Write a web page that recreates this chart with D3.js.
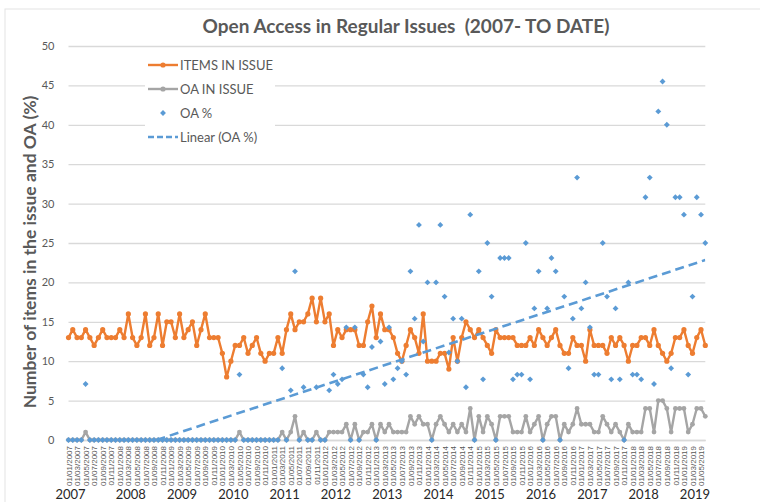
<!DOCTYPE html>
<html>
<head>
<meta charset="utf-8">
<script src="https://cdn.jsdelivr.net/npm/d3@7"></script>
<style>
  body { margin: 0; background: #fff; }
  svg { display: block; font-family: Lato, "Open Sans", sans-serif; }
</style>
</head>
<body>
<div id="chart"></div>
<script>
// monthly issues, Jan 2007 .. Jun 2019
var months = d3.timeMonth.range(new Date(2007, 0, 1), new Date(2019, 6, 1));
var yearLabels = ["2007","2008","2009","2010","2011","2012","2013","2014","2015","2016","2017","2018","2019"];

var itemsInIssue = [
  13,14,13,13,14,13,12,13,14,13, 13,13,14,13,16,13,12,13,16,12,
  13,16,12,15,15,13,16,13,14,15, 12,14,16,13,13,13,11,8,10,12,
  12,13,11,12,13,11,10,11,11,13, 11,14,16,14,15,15,16,18,15,18,
  15,16,12,14,13,14,14,14,12,12, 15,17,13,16,14,14,13,11,10,12,
  14,13,11,16,10,10,10,11,11,9, 13,10,13,15,14,13,14,13,12,11,
  14,13,13,13,13,12,12,12,13,12, 14,13,12,13,14,12,11,11,13,12,
  12,10,14,12,12,12,11,13,12,13, 12,10,12,12,13,13,12,14,12,11,
  10,11,13,13,14,12,11,13,14,12
];
var oaInIssue = [
  0,0,0,0,1,0,0,0,0,0, 0,0,0,0,0,0,0,0,0,0,
  0,0,0,0,0,0,0,0,0,0, 0,0,0,0,0,0,0,0,0,0,
  1,0,0,0,0,0,0,0,0,0, 1,0,1,3,0,1,0,0,1,0,
  0,1,1,1,1,2,0,2,0,1, 1,2,0,2,1,2,1,1,1,1,
  3,2,3,2,2,0,2,3,2,1, 2,1,2,1,4,0,3,1,3,2,
  0,3,3,3,1,1,1,3,1,2, 3,0,2,3,3,0,2,1,2,4,
  2,2,2,1,1,3,2,1,2,1, 0,2,1,1,1,4,4,1,5,5,
  4,1,4,4,4,1,2,4,4,3
];
var oaPercent = [
  0,0,0,0,7.1,0,0,0,0,0, 0,0,0,0,0,0,0,0,0,0,
  0,0,0,0,0,0,0,0,0,0, 0,0,0,0,0,0,0,0,0,0,
  8.3,0,0,0,0,0,0,0,0,0, 9.1,0,6.3,21.4,0,6.7,0,0,6.7,0,
  0,6.3,8.3,7.1,7.7,14.3,0,14.3,0,8.3, 6.7,11.8,0,12.5,7.1,14.3,7.7,9.1,10,8.3,
  21.4,15.4,27.3,12.5,20,0,20,27.3,18.2,11.1, 15.4,10,15.4,6.7,28.6,0,21.4,7.7,25,18.2,
  0,23.1,23.1,23.1,7.7,8.3,8.3,25,7.7,16.7, 21.4,0,16.7,23.1,21.4,0,18.2,9.1,15.4,33.3,
  16.7,20,14.3,8.3,8.3,25,18.2,7.7,16.7,7.7, 0,20,8.3,8.3,7.7,30.8,33.3,7.1,41.7,45.5,
  40,9.1,30.8,30.8,28.6,8.3,18.2,30.8,28.6,25
];
var yTicks = d3.range(0, 51, 5);

var width = 760, height = 502;
var pLeft = 68.5, pRight = 705.3, pTop = 46, pBottom = 440;
var orange = "#ED7D31", grey = "#A5A5A5", blue = "#5B9BD5", txt = "#595959";

var svg = d3.select("#chart").append("svg")
  .attr("width", width).attr("height", height);

svg.append("rect").attr("x", 5).attr("y", 9).attr("width", 800).attr("height", 600)
  .attr("fill", "none").attr("stroke", "#e3e3e3");

var idx = d3.range(months.length);
var x = d3.scalePoint().domain(idx).range([pLeft, pRight]);
var y = d3.scaleLinear().domain([0, 50]).range([pBottom, pTop]);

// gridlines + y labels
var yAxis = svg.append("g").attr("transform", "translate(" + pLeft + ",0)")
  .call(d3.axisLeft(y).tickValues(yTicks).tickSize(-(pRight - pLeft)).tickPadding(14));
yAxis.select(".domain").remove();
yAxis.selectAll(".tick line").attr("stroke", "#d9d9d9").attr("stroke-width", 1.3);
yAxis.selectAll(".tick text").attr("fill", txt).style("font-size", "11px").style("font-family", "Lato, sans-serif");

// x axis
var fmt = d3.timeFormat("%d/%m/%Y");
var xAxis = svg.append("g").attr("transform", "translate(0," + pBottom + ")")
  .call(d3.axisBottom(x).tickValues(idx.filter(function(i) { return i % 2 === 0; }))
    .tickFormat(function(i) { return fmt(months[i]); }).tickSize(0));
xAxis.select(".domain").attr("stroke", "#d9d9d9").attr("stroke-width", 1.3);
xAxis.selectAll(".tick text")
  .attr("fill", txt)
  .style("font-size", "8px").style("font-family", "'Liberation Sans', sans-serif")
  .attr("text-anchor", "end")
  .attr("transform", "rotate(-90)")
  .attr("x", -6).attr("y", 0).attr("dy", "0.33em");

// year labels below
svg.append("g").selectAll("text").data(yearLabels).enter().append("text")
  .attr("x", function(d, k) { return x(k * 12) + (k === 0 ? 2 : 11); })
  .attr("y", 499)
  .attr("text-anchor", "middle")
  .attr("fill", "#262626")
  .style("font-size", "13px")
  .text(function(d) { return d; });

// title
svg.append("text").attr("x", 406).attr("y", 33).attr("text-anchor", "middle")
  .attr("fill", txt).style("font-size", "19px").style("font-weight", "bold")
  .style("white-space", "pre")
  .text("Open Access in Regular Issues  (2007- TO DATE)");

// y axis title
svg.append("text").attr("transform", "translate(36,252) rotate(-90)")
  .attr("text-anchor", "middle").attr("fill", txt)
  .style("font-size", "17.5px").style("font-weight", "bold")
  .text("Number of items in the issue and OA (%)");

svg.append("clipPath").attr("id", "plot").append("rect")
  .attr("x", pLeft - 6).attr("y", pTop - 6).attr("width", pRight - pLeft + 12).attr("height", pBottom - pTop + 12);

var plot = svg.append("g").attr("clip-path", "url(#plot)");

var line = d3.line().x(function(d, i) { return x(i); }).y(function(d) { return y(d); });

function lineSeries(data, color, r) {
  plot.append("path").datum(data).attr("d", line)
    .attr("fill", "none").attr("stroke", color).attr("stroke-width", 2.4).attr("stroke-linejoin", "round");
  plot.append("g").selectAll("circle").data(data).enter().append("circle")
    .attr("cx", function(d, i) { return x(i); })
    .attr("cy", function(d) { return y(d); })
    .attr("r", r).attr("fill", color);
}
lineSeries(itemsInIssue, orange, 2.6);
lineSeries(oaInIssue, grey, 2.4);

var diamond = d3.symbol().type(d3.symbolDiamond2).size(22);
plot.append("g").selectAll("path").data(oaPercent).enter().append("path")
  .attr("d", diamond)
  .attr("transform", function(d, i) { return "translate(" + x(i) + "," + y(d) + ")"; })
  .attr("fill", blue);

// Linear (OA %) trendline, least squares over category number
var n = oaPercent.length;
var mx = d3.mean(idx, function(i) { return i + 1; }), my = d3.mean(oaPercent);
var sxy = d3.sum(idx, function(i) { return (i + 1 - mx) * (oaPercent[i] - my); });
var sxx = d3.sum(idx, function(i) { return (i + 1 - mx) * (i + 1 - mx); });
var slope = sxy / sxx, icpt = my - slope * mx;
var i0 = Math.max(0, (-icpt / slope) - 1);
svg.append("clipPath").attr("id", "trend").append("rect")
  .attr("x", pLeft).attr("y", pTop).attr("width", pRight - pLeft).attr("height", pBottom - pTop);
var xAt = d3.scaleLinear().domain([0, n - 1]).range([pLeft, pRight]);
svg.append("line")
  .attr("clip-path", "url(#trend)")
  .attr("x1", xAt(i0)).attr("y1", y(slope * (i0 + 1) + icpt))
  .attr("x2", xAt(n - 1)).attr("y2", y(slope * n + icpt))
  .attr("stroke", blue).attr("stroke-width", 2.6).attr("stroke-dasharray", "9,5");

// legend
var lg = svg.append("g");
lg.append("rect").attr("x", 145).attr("y", 54).attr("width", 130).attr("height", 94).attr("fill", "#fff");
var legendItems = ["ITEMS IN ISSUE", "OA IN ISSUE", "OA %", "Linear (OA %)"];
legendItems.forEach(function(name, k) {
  var ly = 65 + k * 24;
  if (k < 2) {
    var c = k === 0 ? orange : grey;
    lg.append("line").attr("x1", 148).attr("x2", 178).attr("y1", ly).attr("y2", ly)
      .attr("stroke", c).attr("stroke-width", 2.4);
    lg.append("circle").attr("cx", 163).attr("cy", ly).attr("r", 2.6).attr("fill", c);
  } else if (k === 2) {
    lg.append("path").attr("d", diamond).attr("transform", "translate(163," + ly + ")").attr("fill", blue);
  } else {
    lg.append("line").attr("x1", 148).attr("x2", 178).attr("y1", ly).attr("y2", ly)
      .attr("stroke", blue).attr("stroke-width", 2.6).attr("stroke-dasharray", "6,3");
  }
  lg.append("text").attr("x", 180).attr("y", ly).attr("dy", "0.36em")
    .attr("fill", txt).style("font-size", "13px").text(name);
});
</script>
</body>
</html>
